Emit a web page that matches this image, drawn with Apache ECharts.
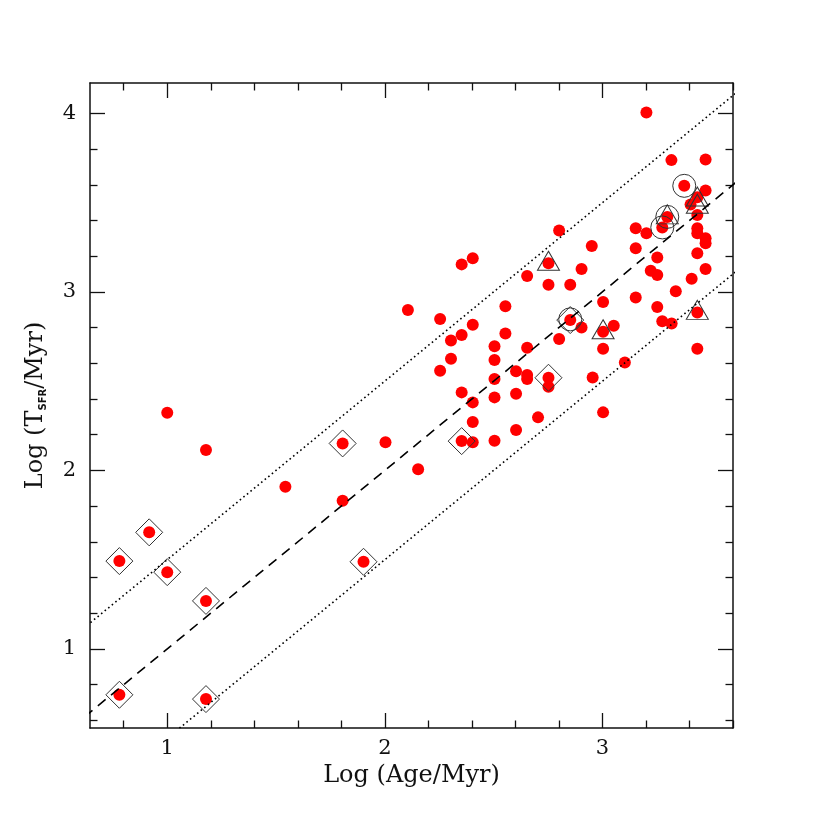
<!DOCTYPE html>
<html>
<head>
<meta charset="utf-8">
<script src="https://cdn.jsdelivr.net/npm/echarts@6/dist/echarts.min.js"></script>
<style>
  html, body { margin: 0; padding: 0; background: #fff; }
  #chart { width: 830px; height: 830px; }
</style>
</head>
<body>
<div id="chart"></div>
<script>
// axis ranges and ticks
var xRange = [0.645, 3.6]
var yRange = [0.557, 4.17]
var xMajor = [1, 2, 3]
var xMinor = [0.8, 1.2, 1.4, 1.6, 1.8, 2.2, 2.4, 2.6, 2.8, 3.2, 3.4, 3.6]
var yMajor = [1, 2, 3, 4]
var yMinor = [0.6, 0.8, 1.2, 1.4, 1.6, 1.8, 2.2, 2.4, 2.6, 2.8, 3.2, 3.4, 3.6, 3.8]

// red dots: log age, log T_SFR
var dotX = [0.78, 0.78, 0.917, 1.0, 1.0, 1.178, 1.178, 1.178, 1.543, 1.806, 1.806, 1.902, 2.003, 2.153, 2.106,
  2.254, 2.254, 2.304, 2.304, 2.353, 2.353, 2.353, 2.353, 2.404, 2.404, 2.404, 2.404, 2.404,
  2.504, 2.504, 2.504, 2.504, 2.504, 2.554, 2.554, 2.603, 2.603, 2.603, 2.654, 2.654, 2.654, 2.654,
  2.704, 2.752, 2.752, 2.752, 2.752, 2.801, 2.801, 2.852, 2.852, 2.904, 2.904, 2.951, 2.955,
  3.003, 3.003, 3.003, 3.003, 3.052, 3.103,
  3.153, 3.153, 3.153, 3.202, 3.202, 3.222, 3.252, 3.252, 3.252, 3.275, 3.275, 3.298, 3.317, 3.318,
  3.337, 3.376, 3.41, 3.405, 3.436, 3.436, 3.436, 3.436, 3.436, 3.436, 3.436, 3.474, 3.474, 3.474, 3.474, 3.474]
var dotY = [0.743, 1.492, 1.653, 1.43, 2.323, 2.114, 1.269, 0.719, 1.908, 2.151, 1.83, 1.488, 2.157, 2.006, 2.898,
  2.848, 2.558, 2.728, 2.626, 3.154, 2.758, 2.437, 2.164, 3.188, 2.816, 2.381, 2.271, 2.157,
  2.695, 2.618, 2.512, 2.409, 2.166, 2.92, 2.767, 2.556, 2.429, 2.226, 3.089, 2.687, 2.534, 2.512,
  2.297, 3.16, 3.04, 2.519, 2.468, 3.344, 2.736, 3.04, 2.842, 3.128, 2.801, 3.257, 2.521,
  2.943, 2.777, 2.681, 2.325, 2.81, 2.605,
  3.356, 3.244, 2.969, 4.005, 3.328, 3.118, 3.193, 3.094, 2.915, 3.361, 2.836, 3.42, 3.738, 2.823,
  3.004, 3.594, 3.073, 3.49, 3.53, 3.43, 3.356, 3.328, 3.216, 2.885, 2.681, 3.742, 3.568, 3.30, 3.272, 3.128]

// open markers
var diamondX = [0.78, 0.78, 0.917, 1.0, 1.178, 1.178, 1.806, 1.902, 2.353, 2.752, 2.852]
var diamondY = [0.743, 1.492, 1.653, 1.43, 1.269, 0.719, 2.151, 1.488, 2.164, 2.519, 2.842]
var circleX = [3.376, 3.298, 3.275, 2.852]
var circleY = [3.594, 3.42, 3.361, 2.846]
var triangleX = [2.752, 3.003, 3.436, 3.298, 3.436, 3.436]
var triangleY = [3.16, 2.777, 2.885, 3.42, 3.52, 3.48]

// reference lines
var lineX = [0.5, 3.7]
var midY = [0.5, 3.7]
var upperY = [1.0, 4.2]
var lowerY = [0.0, 3.2]

var serif = 'DejaVu Serif'

function pairs (xs, ys) {
  return xs.map(function (x, i) { return [x, ys[i]] })
}

function xAx (pos, values, len, labels, line) {
  return {
    type: 'value', position: pos, min: xRange[0], max: xRange[1],
    axisLine: { show: line, lineStyle: { color: '#111', width: 1.5 } },
    axisTick: { show: true, inside: true, length: len, customValues: values, lineStyle: { color: '#111', width: 1.3 } },
    axisLabel: { show: labels, customValues: values, margin: 10, color: '#111', fontFamily: serif, fontSize: 21 },
    splitLine: { show: false }
  }
}

function yAx (pos, values, len, labels, line) {
  return {
    type: 'value', position: pos, min: yRange[0], max: yRange[1],
    axisLine: { show: line, lineStyle: { color: '#111', width: 1.5 } },
    axisTick: { show: true, inside: true, length: len, customValues: values, lineStyle: { color: '#111', width: 1.3 } },
    axisLabel: { show: labels, customValues: values, margin: 14, color: '#111', fontFamily: serif, fontSize: 21 },
    splitLine: { show: false }
  }
}

var xAxes = [
  xAx('bottom', xMajor, 15, true, true),
  xAx('bottom', xMinor, 7.5, false, false),
  xAx('top', xMajor, 15, false, true),
  xAx('top', xMinor, 7.5, false, false)
]
xAxes[0].name = 'Log (Age/Myr)'
xAxes[0].nameLocation = 'middle'
xAxes[0].nameGap = 25
xAxes[0].nameTextStyle = { color: '#111', fontFamily: serif, fontSize: 24 }

var yAxes = [
  yAx('left', yMajor, 15, true, true),
  yAx('left', yMinor, 7.5, false, false),
  yAx('right', yMajor, 15, false, true),
  yAx('right', yMinor, 7.5, false, false)
]
yAxes[0].name = 'Log (T{sub|SFR}/Myr)'
yAxes[0].nameLocation = 'middle'
yAxes[0].nameGap = 42
yAxes[0].nameTextStyle = {
  color: '#111', fontFamily: serif, fontSize: 24,
  rich: {
    sub: { fontFamily: 'DejaVu Sans', fontWeight: 'bold', fontSize: 10, color: '#111', verticalAlign: 'bottom' }
  }
}

function outline (name, symbol, size, data, offset) {
  return {
    name: name, type: 'scatter', symbol: symbol, symbolSize: size, symbolOffset: offset || [0, 0],
    data: data, silent: true,
    itemStyle: { color: 'rgba(0,0,0,0)', borderColor: '#333', borderWidth: 1, opacity: 1 }
  }
}

function refLine (name, ys, type, width) {
  return {
    name: name, type: 'line', data: pairs(lineX, ys), symbol: 'none', silent: true,
    lineStyle: { color: '#000', width: width, type: type }
  }
}

var chart = echarts.init(document.getElementById('chart'))
chart.setOption({
  animation: false,
  backgroundColor: '#fff',
  grid: { left: 90, right: 97, top: 83, bottom: 102, outerBoundsMode: 'none' },
  xAxis: xAxes,
  yAxis: yAxes,
  series: [
    { name: 'dots', type: 'scatter', data: pairs(dotX, dotY), symbolSize: 12, silent: true, itemStyle: { color: '#ff0000', opacity: 1 } },
    refLine('mid', midY, [10, 7], 1.6),
    refLine('upper', upperY, [1.6, 3], 1.6),
    refLine('lower', lowerY, [1.6, 3], 1.6),
    outline('diamond', 'diamond', 27, pairs(diamondX, diamondY)),
    outline('circle', 'circle', 23, pairs(circleX, circleY)),
    outline('triangle', 'triangle', [22, 19], pairs(triangleX, triangleY), [0, -2.5])
  ]
})
</script>
</body>
</html>
